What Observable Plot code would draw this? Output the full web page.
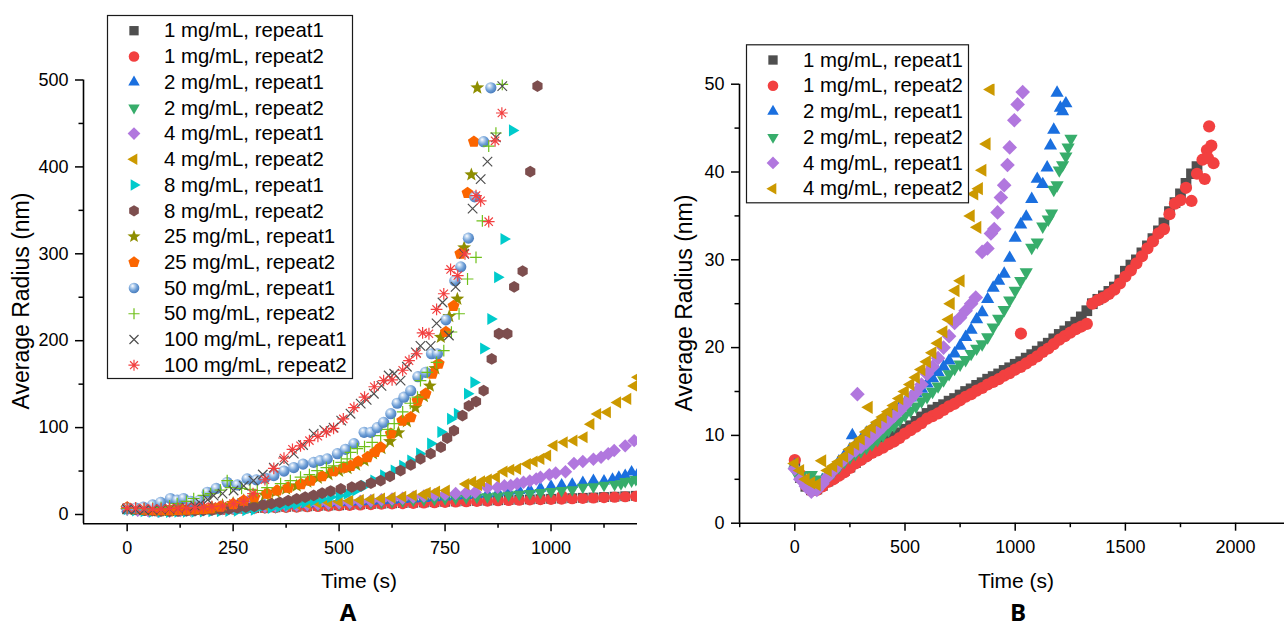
<!DOCTYPE html>
<html><head><meta charset="utf-8">
<script src="https://cdn.jsdelivr.net/npm/d3@7"></script>
<script src="https://cdn.jsdelivr.net/npm/@observablehq/plot@0.6"></script>
<style>
body{margin:0;background:#fff;}
#root{position:relative;width:1284px;height:629px;overflow:hidden;background:#fff;}
</style></head><body><div id="root"></div>
<script>
// ---------- data: [time (s), average radius (nm)] ----------
const mg1_r1 = [[0,6.8],[25,5.2],[50,4.2],[75,3.8],[100,3.9],[125,4.3],[150,4.8],[175,5.2],[200,5.6],[225,6.0],[250,6.4],[275,6.9],[300,7.4],[325,7.8],[350,8.3],[375,8.7],[400,9.1],[425,9.5],[450,9.9],[475,10.3],[500,10.7],[525,11.1],[550,11.6],[575,12.1],[600,12.5],[625,12.9],[650,13.2],[675,13.5],[700,13.9],[725,14.2],[750,14.6],[775,15.0],[800,15.3],[825,15.7],[850,16.0],[875,16.4],[900,16.7],[925,17.0],[950,17.4],[975,17.7],[1000,18.1],[1025,18.4],[1050,18.8],[1075,19.2],[1100,19.6],[1125,20.1],[1150,20.5],[1175,21.0],[1200,21.5],[1225,21.9],[1250,22.4],[1275,22.9],[1300,23.5],[1325,24.2],[1350,25.0],[1375,25.5],[1400,25.9],[1425,26.4],[1450,26.9],[1475,27.7],[1500,28.7],[1525,29.4],[1550,30.0],[1575,30.8],[1600,31.6],[1625,32.4],[1650,33.3],[1675,34.2],[1700,35.5],[1725,36.5],[1750,37.5],[1775,38.7],[1800,39.8],[1825,40.6]];
const mg1_r2 = [[0,7.2],[25,5.5],[50,4.3],[75,3.7],[100,3.8],[125,4.2],[150,4.7],[175,5.0],[200,5.4],[225,5.8],[250,6.3],[275,6.8],[300,7.2],[325,7.6],[350,8.0],[375,8.3],[400,8.6],[425,9.0],[450,9.3],[475,9.7],[500,10.2],[525,10.6],[550,11.0],[575,11.4],[600,11.9],[625,12.2],[650,12.5],[675,12.9],[700,13.3],[725,13.6],[750,14.0],[775,14.4],[800,14.7],[825,15.1],[850,15.4],[875,15.8],[900,16.1],[925,16.4],[950,16.8],[975,17.1],[1000,17.5],[1025,17.8],[1026,21.6],[1050,18.2],[1075,18.6],[1100,19.0],[1125,19.5],[1150,19.9],[1175,20.4],[1200,20.9],[1225,21.3],[1250,21.7],[1275,22.1],[1300,22.4],[1325,22.7],[1350,25.0],[1375,25.4],[1400,25.7],[1425,26.1],[1450,26.6],[1475,27.3],[1500,28.1],[1525,28.8],[1550,29.6],[1575,30.4],[1600,31.3],[1625,32.1],[1650,33.0],[1675,33.5],[1700,35.2],[1725,36.4],[1750,36.8],[1775,38.2],[1800,36.7],[1825,39.8],[1850,41.4],[1860,39.2],[1870,42.5],[1875,41.6],[1880,45.2],[1890,43.0],[1900,41.0]];
const mg2_r1 = [[0,6.6],[25,5.4],[50,4.6],[75,4.2],[100,4.4],[125,4.9],[150,5.6],[175,6.2],[200,7.0],[225,7.7],[250,8.4],[261,10.0],[275,8.9],[300,9.5],[325,10.3],[350,10.7],[375,11.2],[400,11.7],[425,12.2],[450,12.7],[475,13.2],[500,13.7],[525,14.3],[550,14.8],[575,15.3],[600,15.9],[625,16.5],[650,17.2],[675,17.8],[700,18.5],[725,19.3],[750,20.2],[775,21.2],[800,22.0],[825,23.2],[850,24.0],[875,25.5],[900,26.8],[925,27.6],[950,28.4],[975,30.2],[1000,32.5],[1025,34.0],[1050,34.9],[1075,36.9],[1100,39.2],[1125,38.6],[1145,40.5],[1160,43.0],[1175,44.8],[1190,49.0],[1205,47.3],[1215,46.9],[1230,47.8]];
const mg2_r2 = [[0,6.0],[25,5.4],[50,5.0],[75,5.5],[100,5.0],[125,4.8],[150,5.2],[175,5.8],[200,6.4],[225,7.0],[250,7.5],[275,7.9],[300,8.2],[325,8.6],[350,9.0],[375,9.5],[400,10.0],[425,10.6],[450,11.1],[475,11.7],[500,12.3],[525,12.8],[550,13.3],[575,13.9],[600,14.4],[625,15.0],[650,15.6],[675,16.3],[700,17.0],[725,17.6],[750,18.1],[775,18.6],[800,19.3],[825,19.9],[850,20.4],[875,21.2],[900,22.3],[925,23.3],[950,24.3],[975,25.4],[1000,26.5],[1025,27.6],[1050,28.6],[1075,31.4],[1100,32.0],[1125,33.8],[1150,34.6],[1165,35.3],[1175,38.0],[1190,38.5],[1200,40.2],[1215,40.8],[1230,41.8],[1240,42.8],[1253,43.8]];
const mg4_r1 = [[0,6.2],[25,5.0],[50,4.2],[75,3.6],[100,3.8],[125,4.5],[150,5.3],[175,6.0],[200,6.7],[225,7.3],[250,7.9],[275,8.3],[284,14.7],[300,8.7],[325,9.2],[350,9.8],[375,10.4],[400,11.0],[425,11.6],[450,12.2],[475,12.8],[500,13.5],[525,14.2],[550,14.9],[575,15.8],[600,17.0],[625,17.8],[650,18.8],[675,20.0],[700,21.3],[725,22.8],[750,23.4],[775,24.2],[800,25.0],[821,25.7],[850,30.9],[874,31.3],[890,33.0],[905,33.5],[920,35.4],[935,37.1],[950,38.5],[965,40.8],[975,42.8],[996,45.9],[1011,47.7],[1034,49.1],[1054,58.6],[1075,61.0],[1100,63.5],[1118,65.9],[1135,70.0],[1149,73.6],[1175,79.0],[1196,85.0]];
const mg4_r2 = [[0,6.8],[25,6.0],[50,5.0],[75,4.6],[100,4.4],[125,7.1],[150,6.0],[175,6.5],[200,7.0],[225,7.6],[250,8.4],[275,9.0],[300,9.6],[325,10.4],[336,13.2],[350,10.9],[375,11.5],[400,12.1],[425,12.7],[450,13.4],[475,14.2],[500,15.0],[525,15.8],[550,16.6],[575,17.5],[600,18.4],[625,19.4],[650,20.5],[675,21.8],[700,23.2],[708,25.0],[730,26.5],[753,27.6],[799,35.0],[815,37.5],[829,33.7],[836,38.1],[852,40.2],[871,43.2],[889,49.4],[905,51.5],[921,52.5],[944,58.0],[960,61.0],[976,64.0],[992,67.8],[1007,79.3],[1031,83.0],[1054,85.0],[1078,88.9],[1094,104.0],[1110,115.7],[1133,117.6],[1157,129.0],[1181,133.0],[1196,148.0],[1205,158.0]];
const mg8_r1 = [[0,6.0],[20,4.8],[40,3.8],[60,3.2],[80,3.0],[100,3.0],[120,3.1],[140,3.2],[160,3.3],[180,3.5],[200,3.7],[220,3.9],[240,4.2],[260,4.5],[280,5.0],[300,5.6],[322,10.0],[340,7.5],[360,9.0],[380,10.5],[400,12.0],[420,14.0],[440,16.0],[460,18.0],[480,20.0],[500,22.0],[519,24.0],[540,28.0],[560,33.0],[582,39.0],[605,45.0],[630,50.6],[650,56.0],[669,62.0],[690,70.0],[716,81.6],[740,95.0],[763,110.0],[779,116.0],[803,139.0],[818,152.0],[841,191.0],[858,225.0],[874,273.0],[889,317.0],[909,442.0]];
const mg8_r2 = [[0,8.0],[20,6.0],[40,5.0],[60,4.5],[80,4.2],[100,4.0],[120,4.0],[140,4.2],[160,4.5],[180,4.8],[200,5.2],[220,5.8],[240,6.5],[260,7.5],[280,8.5],[300,9.5],[320,11.0],[340,12.5],[360,14.0],[380,16.0],[400,18.0],[420,20.0],[440,22.0],[460,24.5],[480,27.0],[504,29.5],[530,31.5],[551,33.0],[575,36.0],[598,39.0],[620,44.0],[645,50.6],[669,57.0],[692,64.0],[716,70.0],[740,77.4],[755,88.0],[771,96.5],[791,113.8],[806,125.0],[823,130.0],[841,142.5],[860,179.0],[877,208.0],[897,208.0],[913,262.0],[933,280.0],[951,394.6],[968,493.0]];
const mg25_r1 = [[0,7.0],[20,6.0],[40,5.5],[60,5.0],[80,5.0],[100,5.0],[120,5.2],[140,5.5],[160,6.0],[180,7.0],[200,8.0],[225,10.5],[250,13.0],[275,16.0],[300,19.0],[325,22.5],[350,26.0],[375,29.5],[400,33.0],[425,37.5],[450,42.0],[475,46.0],[500,50.0],[520,53.0],[540,57.0],[560,62.0],[580,70.0],[600,76.0],[620,84.0],[640,94.0],[660,107.0],[680,123.0],[700,136.0],[714,148.0],[727,168.0],[740,204.0],[760,228.0],[779,248.0],[795,307.0],[812,391.0],[826,491.0]];
const mg25_r2 = [[0,8.0],[20,6.5],[40,5.5],[60,5.0],[80,5.0],[100,5.0],[120,5.2],[140,5.5],[160,6.0],[180,6.5],[197,7.0],[220,9.0],[250,12.0],[275,16.0],[300,20.0],[330,24.0],[354,27.6],[380,31.0],[410,35.0],[433,39.0],[460,44.0],[487,50.0],[511,54.0],[527,56.0],[545,61.0],[567,66.0],[585,72.0],[598,77.4],[622,93.0],[649,108.0],[669,112.0],[685,131.0],[704,139.0],[720,162.0],[735,173.6],[752,210.0],[770,240.0],[786,300.0],[803,370.0],[818,429.0]];
const mg50_r1 = [[0,6.9],[20,7.5],[38,8.4],[60,11.0],[79,14.0],[102,18.4],[118,16.5],[133,18.4],[150,15.0],[170,16.0],[189,25.6],[210,30.0],[236,37.0],[260,34.0],[283,41.0],[305,40.0],[325,42.0],[346,44.8],[370,50.0],[393,54.0],[415,58.0],[440,60.0],[455,62.0],[472,64.0],[496,70.0],[515,75.0],[535,81.6],[559,94.6],[575,94.6],[590,100.0],[605,106.0],[622,116.0],[637,128.0],[653,135.0],[669,142.5],[686,158.6],[704,163.6],[718,185.0],[732,185.0],[752,224.0],[773,269.0],[787,285.0],[805,318.0],[820,365.5],[841,429.0],[858,491.0]];
const mg50_r2 = [[0,7.0],[20,7.0],[40,6.5],[60,7.0],[80,8.0],[100,10.0],[118,12.6],[140,15.0],[157,18.4],[180,22.0],[197,24.0],[220,28.0],[236,39.0],[244,31.0],[270,30.0],[290,29.0],[307,27.6],[330,31.0],[362,35.6],[385,39.0],[409,42.9],[430,46.0],[448,50.6],[470,54.0],[487,56.0],[505,60.0],[519,64.0],[527,71.6],[543,75.9],[560,78.0],[578,83.0],[598,90.8],[615,98.0],[630,104.6],[650,118.0],[668,128.0],[685,135.0],[692,154.0],[708,163.6],[730,175.0],[747,188.5],[765,210.0],[783,231.0],[803,271.0],[823,296.0],[838,338.0],[853,424.0],[870,439.0],[885,495.0]];
const mg100_r1 = [[0,6.0],[20,5.5],[40,5.0],[60,5.5],[80,6.0],[100,6.5],[120,7.0],[140,8.0],[160,10.0],[173,12.6],[190,17.0],[204,21.8],[225,24.0],[251,27.6],[275,33.0],[298,39.0],[320,46.0],[346,54.0],[370,62.0],[393,70.0],[415,80.0],[440,93.0],[465,97.0],[487,100.0],[505,108.0],[527,116.0],[551,127.6],[565,132.0],[582,139.0],[600,148.0],[617,160.0],[630,162.0],[645,154.0],[660,170.0],[681,186.6],[692,194.0],[716,194.0],[730,220.0],[744,244.0],[759,206.0],[775,262.0],[795,300.0],[815,352.0],[834,386.0],[850,406.0],[870,434.0],[885,493.0]];
const mg100_r2 = [[0,8.0],[20,7.5],[40,7.0],[60,6.5],[80,6.5],[100,7.0],[120,7.0],[140,7.5],[160,8.0],[180,8.5],[200,9.0],[225,10.0],[251,12.6],[275,15.0],[297,24.0],[325,40.0],[346,53.0],[370,65.0],[390,75.0],[409,79.0],[430,85.0],[450,90.0],[470,95.0],[487,99.0],[510,110.0],[535,123.0],[560,135.0],[583,147.0],[605,154.0],[625,155.0],[650,166.0],[665,177.0],[683,185.0],[697,209.0],[712,208.0],[730,236.0],[747,254.0],[763,282.0],[780,275.0],[797,300.0],[823,367.0],[834,361.0],[853,337.0],[868,430.0],[884,462.0]];

// ---------- tick values ----------
const xTicksA = [0, 250, 500, 750, 1000];
const xMinorA = [125, 375, 625, 875, 1125];
const yTicksA = [0, 100, 200, 300, 400, 500];
const yMinorA = [50, 150, 250, 350, 450];
const xTicksB = [0, 500, 1000, 1500, 2000];
const xMinorB = [-250, 250, 750, 1250, 1750];
const yTicksB = [0, 10, 20, 30, 40, 50];
const yMinorB = [5, 15, 25, 35, 45];

// ---------- series styling ----------
const seriesA = [
  {name: "1 mg/mL, repeat1", data: mg1_r1, color: "#4f4f4f", sym: "square", mode: "fill"},
  {name: "1 mg/mL, repeat2", data: mg1_r2, color: "#F24040", sym: "circle", mode: "fill"},
  {name: "2 mg/mL, repeat1", data: mg2_r1, color: "#1A6FDF", sym: "triUp", mode: "fill"},
  {name: "2 mg/mL, repeat2", data: mg2_r2, color: "#37AD6B", sym: "triDown", mode: "fill"},
  {name: "4 mg/mL, repeat1", data: mg4_r1, color: "#B177DE", sym: "diamond", mode: "fill"},
  {name: "4 mg/mL, repeat2", data: mg4_r2, color: "#CC9900", sym: "triLeft", mode: "fill"},
  {name: "8 mg/mL, repeat1", data: mg8_r1, color: "#00CBCC", sym: "triRight", mode: "fill"},
  {name: "8 mg/mL, repeat2", data: mg8_r2, color: "#7D4E4E", sym: "hexagon", mode: "fill"},
  {name: "25 mg/mL, repeat1", data: mg25_r1, color: "#8E8E00", sym: "star", mode: "fill"},
  {name: "25 mg/mL, repeat2", data: mg25_r2, color: "#FB6500", sym: "pentagon", mode: "fill"},
  {name: "50 mg/mL, repeat1", data: mg50_r1, color: "url(#sphereGrad)", sym: "circle", mode: "fill"},
  {name: "50 mg/mL, repeat2", data: mg50_r2, color: "#6FC01A", sym: "plus", mode: "stroke"},
  {name: "100 mg/mL, repeat1", data: mg100_r1, color: "#4f4f4f", sym: "times", mode: "stroke"},
  {name: "100 mg/mL, repeat2", data: mg100_r2, color: "#F24040", sym: "asterisk", mode: "stroke"}
];
const seriesB = seriesA.slice(0, 6);

// ---------- symbols ----------
function mk(fn) { return {draw(ctx, size) { fn(ctx, Math.sqrt(size / Math.PI)); }}; }
function poly(ctx, pts) { ctx.moveTo(pts[0][0], pts[0][1]); for (let i = 1; i < pts.length; i++) ctx.lineTo(pts[i][0], pts[i][1]); ctx.closePath(); }
function ring(n, R, a0) { const p = []; for (let k = 0; k < n; k++) { const a = a0 + 2 * Math.PI * k / n; p.push([R * Math.cos(a), R * Math.sin(a)]); } return p; }
const SYM = {
  square: mk((c, r) => { const s = r * 0.88; poly(c, [[-s,-s],[s,-s],[s,s],[-s,s]]); }),
  circle: mk((c, r) => { c.moveTo(r, 0); c.arc(0, 0, r, 0, 2 * Math.PI); }),
  triUp: mk((c, r) => { const R = r * 1.25; poly(c, [[0,-R],[R*0.866,R*0.5],[-R*0.866,R*0.5]]); }),
  triDown: mk((c, r) => { const R = r * 1.25; poly(c, [[0,R],[R*0.866,-R*0.5],[-R*0.866,-R*0.5]]); }),
  triLeft: mk((c, r) => { const R = r * 1.25; poly(c, [[-R,0],[R*0.5,-R*0.866],[R*0.5,R*0.866]]); }),
  triRight: mk((c, r) => { const R = r * 1.25; poly(c, [[R,0],[-R*0.5,-R*0.866],[-R*0.5,R*0.866]]); }),
  diamond: mk((c, r) => { const d = r * 1.2; poly(c, [[0,-d],[d,0],[0,d],[-d,0]]); }),
  hexagon: mk((c, r) => poly(c, ring(6, r * 1.05, -Math.PI / 2))),
  pentagon: mk((c, r) => poly(c, ring(5, r * 1.12, -Math.PI / 2))),
  star: mk((c, r) => { const R = r * 1.3, p = []; for (let k = 0; k < 10; k++) { const a = -Math.PI / 2 + k * Math.PI / 5, rr = k % 2 ? R * 0.42 : R; p.push([rr * Math.cos(a), rr * Math.sin(a)]); } poly(c, p); }),
  plus: mk((c, r) => { const a = r * 1.05; c.moveTo(-a, 0); c.lineTo(a, 0); c.moveTo(0, -a); c.lineTo(0, a); }),
  times: mk((c, r) => { const a = r * 0.85; c.moveTo(-a, -a); c.lineTo(a, a); c.moveTo(-a, a); c.lineTo(a, -a); }),
  asterisk: mk((c, r) => { const a = r * 1.05, b = a * 0.707; c.moveTo(-a, 0); c.lineTo(a, 0); c.moveTo(0, -a); c.lineTo(0, a); c.moveTo(-b, -b); c.lineTo(b, b); c.moveTo(-b, b); c.lineTo(b, -b); })
};

const FONT = '"Liberation Sans", Arial, Helvetica, sans-serif';

function dotMark(s, data, r) {
  const o = {x: d => d[0], y: d => d[1], r, symbol: SYM[s.sym], clip: true};
  if (s.mode === "stroke") { o.stroke = s.color; o.fill = "none"; o.strokeWidth = 1.2; }
  else { o.fill = s.color; o.stroke = "none"; }
  return Plot.dot(data, o);
}

function axes(xDom, yDom, xT, xM, yT, yM) {
  return [
    Plot.ruleX([xDom[0]], {strokeWidth: 1.6, stroke: "#000"}),
    Plot.ruleY([yDom[0]], {strokeWidth: 1.6, stroke: "#000"}),
    Plot.axisX(xT, {tickSize: 8, tickPadding: 9, tickFormat: "d", strokeWidth: 1.5, fontSize: 18, label: null}),
    Plot.axisX(xM, {tickSize: 4.5, tickFormat: () => "", strokeWidth: 1.5, label: null}),
    Plot.axisY(yT, {tickSize: 8, tickPadding: 7, tickFormat: "d", strokeWidth: 1.5, fontSize: 18, label: null}),
    Plot.axisY(yM, {tickSize: 4.5, tickFormat: () => "", strokeWidth: 1.5, label: null})
  ];
}

const root = document.getElementById("root");

// overlay with gradient defs, titles and legends
const ov = d3.create("svg").attr("width", 1284).attr("height", 629)
  .style("position", "absolute").style("left", "0px").style("top", "0px")
  .style("font-family", FONT);
const grad = ov.append("defs").append("radialGradient").attr("id", "sphereGrad")
  .attr("cx", 0.4).attr("cy", 0.38).attr("r", 0.62).attr("fx", 0.36).attr("fy", 0.3);
grad.append("stop").attr("offset", 0).attr("stop-color", "#ffffff");
grad.append("stop").attr("offset", 0.28).attr("stop-color", "#bcd4ef");
grad.append("stop").attr("offset", 0.65).attr("stop-color", "#6d9ed6");
grad.append("stop").attr("offset", 1).attr("stop-color", "#4a7dbd");

// Panel A
const xA = [-103, 1204], yA = [-10.7, 500];
const plotA = Plot.plot({
  width: 650, height: 600,
  marginLeft: 83, marginRight: 13, marginTop: 79.5, marginBottom: 76.7,
  x: {domain: xA}, y: {domain: yA},
  style: {fontFamily: FONT, fontSize: "18px", color: "#000", background: "transparent", overflow: "visible"},
  marks: [
    ...seriesA.map(s => dotMark(s, s.data, 5.6)),
    ...axes(xA, yA, xTicksA, xMinorA, yTicksA, yMinorA)
  ]
});
plotA.style.position = "absolute"; plotA.style.left = "0px"; plotA.style.top = "0px";
root.appendChild(plotA);

// Panel B
const xB = [-251, 2222], yB = [0, 50];
const plotB = Plot.plot({
  width: 624, height: 600,
  marginLeft: 79, marginRight: 0, marginTop: 83.7, marginBottom: 77.3,
  x: {domain: xB}, y: {domain: yB},
  style: {fontFamily: FONT, fontSize: "18px", color: "#000", background: "transparent", overflow: "visible"},
  marks: [
    ...seriesB.map(s => dotMark(s, s.data.filter(d => d[1] <= yB[1]), 6.1)),
    ...axes(xB, yB, xTicksB, xMinorB, yTicksB, yMinorB)
  ]
});
plotB.style.position = "absolute"; plotB.style.left = "660px"; plotB.style.top = "0px";
root.appendChild(plotB);

// titles
function txt(x, y, s, size, opts = {}) {
  const t = ov.append("text").attr("x", x).attr("y", y).attr("font-size", size)
    .attr("text-anchor", opts.anchor || "middle").attr("fill", "#000").text(s);
  if (opts.rotate) t.attr("transform", `rotate(-90 ${x} ${y})`);
  if (opts.weight) t.attr("font-weight", opts.weight);
  if (opts.family) t.attr("font-family", opts.family);
  return t;
}
txt(359, 588, "Time (s)", 21);
txt(1016, 588, "Time (s)", 21);
txt(29, 301, "Average Radius (nm)", 23, {rotate: true});
txt(692, 303, "Average Radius (nm)", 23, {rotate: true});
txt(348, 621, "A", 24, {weight: 700, family: '"Open Sans", "DejaVu Sans", sans-serif'});
txt(1018, 621, "B", 24, {weight: 700, family: '"Open Sans", "DejaVu Sans", sans-serif'});

// legends
function legend(series, x0, y0, w, h, r) {
  const g = ov.append("g");
  g.append("rect").attr("x", x0 + 0.5).attr("y", y0 + 0.5).attr("width", w).attr("height", h)
    .attr("fill", "#fff").attr("stroke", "#1a1a1a").attr("stroke-width", 1.2);
  series.forEach((s, i) => {
    const cy = y0 + 15.7 + i * 25.73;
    const p = g.append("path").attr("transform", `translate(${x0 + 27},${cy})`)
      .attr("d", d3.symbol(SYM[s.sym], Math.PI * r * r)());
    if (s.mode === "stroke") p.attr("fill", "none").attr("stroke", s.color).attr("stroke-width", 1.2);
    else p.attr("fill", s.color);
    g.append("text").attr("x", x0 + 57).attr("y", cy + 6.7).attr("font-size", 20.4).attr("fill", "#000").text(s.name);
  });
}
legend(seriesA, 107, 15, 245, 363, 5.3);
legend(seriesB, 746, 44.3, 222, 158, 5.3);

root.appendChild(ov.node());
</script>
</body></html>
